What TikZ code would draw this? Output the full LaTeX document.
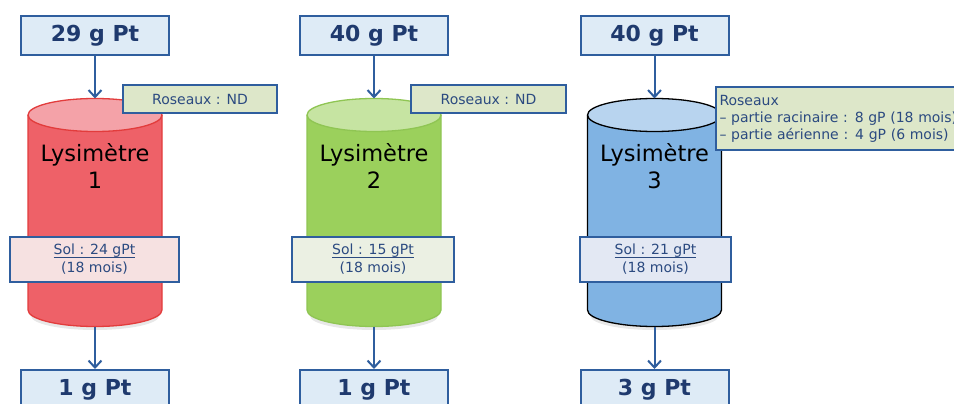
\documentclass[tikz,border=0pt]{standalone}
\usepackage{fontspec}
\setmainfont{DejaVu Sans}
\usetikzlibrary{arrows.meta}
\definecolor{bord}{HTML}{2F5E9E}
\definecolor{navy}{HTML}{1F3A6E}
\definecolor{txtb}{HTML}{2B4A80}
\definecolor{topfill}{HTML}{DEEBF6}
\definecolor{rosfill}{HTML}{DDE7C9}
\definecolor{solA}{HTML}{F6E1E1}
\definecolor{solB}{HTML}{EBF0E3}
\definecolor{solC}{HTML}{E3E8F3}
\definecolor{bodyA}{HTML}{EE6168}
\definecolor{topA}{HTML}{F4A2A8}
\definecolor{bordA}{HTML}{E23C3C}
\definecolor{bodyB}{HTML}{9BD05C}
\definecolor{topB}{HTML}{C6E4A2}
\definecolor{bordB}{HTML}{8FC553}
\definecolor{bodyC}{HTML}{80B3E3}
\definecolor{topC}{HTML}{B8D4EF}
\definecolor{bordC}{HTML}{000000}
\newcommand\solul[1]{\sbox0{#1}\rlap{\usebox0}\rule[-2.6pt]{\wd0}{0.8pt}}
\newcommand\lysicyl[4]{%
  \fill[black!20,opacity=0.45] (#1-64,316) arc[start angle=180,end angle=0,x radius=64,y radius=14] -- cycle;
  \filldraw[fill=#2,draw=#4,line width=1.3pt] (#1-67,115) -- (#1-67,310) arc[start angle=180,end angle=0,x radius=67,y radius=16.5] -- (#1+67,115);
  \filldraw[fill=#3,draw=#4,line width=1.3pt] (#1,115) ellipse[x radius=67,y radius=16.5];
}
\tikzset{
  topbox/.style={draw=bord,fill=topfill,line width=2pt,minimum width=148pt,minimum height=39pt,inner sep=0pt,
    text=navy,font=\fontsize{22}{26}\selectfont\bfseries},
  rosbox/.style={draw=bord,fill=rosfill,line width=2pt,minimum height=28pt,inner sep=0pt,
    text=txtb,font=\fontsize{14}{17}\selectfont},
  solbox/.style={draw=bord,line width=2pt,minimum height=45pt,inner sep=0pt,align=center,
    text=txtb,font=\fontsize{14}{18}\selectfont},
  lysi/.style={align=center,text=black,font=\fontsize{22.5}{27}\selectfont},
  arr/.style={draw=bord,line width=2pt,-{Straight Barb[length=7pt,width=13pt,line width=2pt]}}
}
\begin{document}
\begin{tikzpicture}[x=1pt,y=-1pt]
\useasboundingbox (0,0) rectangle (954,404);
\clip (0,0) rectangle (954,404);
% cylinders
\lysicyl{95}{bodyA}{topA}{bordA}
\lysicyl{374}{bodyB}{topB}{bordB}
\lysicyl{654.5}{bodyC}{topC}{bordC}
\coordinate (c1t) at (95,98.5);
\coordinate (c1b) at (95,326.5);
\coordinate (c2t) at (374,98.5);
\coordinate (c2b) at (374,326.5);
\coordinate (c3t) at (654.5,98.5);
\coordinate (c3b) at (654.5,326.5);
\node[lysi] (l1) at (95,166) {Lysimètre\\1};
\node[lysi] (l2) at (374,166) {Lysimètre\\2};
\node[lysi] (l3) at (654.5,166) {Lysimètre\\3};
% top boxes
\node[topbox] (t1) at (95,35.5) {29 g Pt};
\node[topbox] (t2) at (374,35.5) {40 g Pt};
\node[topbox] (t3) at (654.5,35.5) {40 g Pt};
% bottom boxes
\node[topbox] (b1) at (95,389.5) {1 g Pt};
\node[topbox] (b2) at (374,389.5) {1 g Pt};
\node[topbox] (b3) at (654.5,389.5) {3 g Pt};
% arrows
\draw[arr] (t1) -- (c1t);
\draw[arr] (t2) -- (c2t);
\draw[arr] (t3) -- (c3t);
\draw[arr] (c1b) -- (b1);
\draw[arr] (c2b) -- (b2);
\draw[arr] (c3b) -- (b3);
% roseaux
\node[rosbox,minimum width=154pt] (r1) at (200,99) {Roseaux : ND};
\node[rosbox,minimum width=155pt] (r2) at (488.5,99) {Roseaux : ND};
\node[rosbox,anchor=north west,text width=252pt,align=left,inner xsep=3.5pt,inner ysep=5pt,minimum height=63pt] (r3) at (715,86)
  {Roseaux\\– partie racinaire : 8 gP (18 mois)\\– partie aérienne : 4 gP (6 mois)};
% sol
\node[solbox,fill=solA,minimum width=169pt] (s1) at (94.5,259.5) {\solul{Sol : 24 gPt}\\(18 mois)};
\node[solbox,fill=solB,minimum width=162pt] (s2) at (373,259.5) {\solul{Sol : 15 gPt}\\(18 mois)};
\node[solbox,fill=solC,minimum width=151pt] (s3) at (655.5,259.5) {\solul{Sol : 21 gPt}\\(18 mois)};
\end{tikzpicture}
\end{document}
